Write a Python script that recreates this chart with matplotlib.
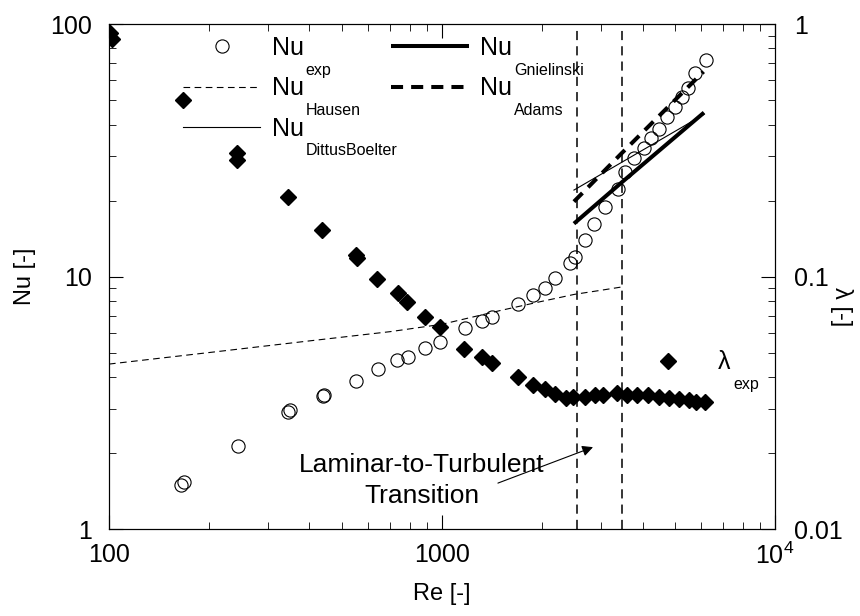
import matplotlib
matplotlib.use('Agg')
import matplotlib.pyplot as plt
from matplotlib.lines import Line2D
from matplotlib.ticker import NullFormatter, LogLocator

plt.rcParams['font.family'] = ['Liberation Sans', 'DejaVu Sans']
plt.rcParams['mathtext.fontset'] = 'custom'
plt.rcParams['mathtext.rm'] = 'Liberation Sans'

# experimental Nusselt numbers
re_nu_exp = [165, 168, 244, 345, 350, 438, 441, 552, 641, 734, 793, 889, 986, 1173,
             1316, 1410, 1695, 1880, 2040, 2184, 2423, 2505, 2690, 2860, 3087, 3380,
             3540, 3760, 4040, 4250, 4470, 4733, 5010, 5250, 5460, 5760, 6190]
nu_exp = [1.50, 1.53, 2.14, 2.90, 2.95, 3.37, 3.40, 3.86, 4.30, 4.67, 4.79, 5.20, 5.52, 6.23,
          6.67, 6.89, 7.79, 8.45, 9.03, 9.84, 11.35, 11.9, 14.0, 16.2, 18.9, 22.3,
          26.0, 29.4, 32.2, 35.3, 38.3, 43.0, 47.0, 51.5, 55.6, 63.8, 72.0]

# experimental friction factor
re_lam = [101, 102, 167, 242, 243, 345, 435, 553, 556, 637, 740, 784, 889, 986, 1165,
          1316, 1410, 1695, 1880, 2040, 2184, 2365, 2480, 2690, 2890, 3050, 3360, 3600,
          3850, 4165, 4470, 4790, 5140, 5500, 5800, 6180]
lam_exp = [0.92, 0.87, 0.50, 0.308, 0.29, 0.207, 0.153, 0.122, 0.118, 0.098, 0.086, 0.0794,
           0.069, 0.063, 0.0515, 0.0478, 0.0456, 0.0401, 0.0372, 0.036, 0.0343, 0.033,
           0.0334, 0.0334, 0.034, 0.034, 0.0346, 0.034, 0.034, 0.034, 0.0333, 0.033,
           0.0326, 0.0324, 0.0318, 0.0318]

# correlations
re_hausen = [100, 200, 400, 700, 1000, 1500, 2000, 2500, 3000, 3480]
nu_hausen = [4.5, 5.0, 5.56, 6.05, 6.47, 7.34, 7.98, 8.5, 8.82, 9.1]
re_gniel = [2490, 3465, 6120]
nu_gniel = [16.2, 23.6, 44.6]
re_adams = [2490, 3465, 6100]
nu_adams = [19.8, 30.8, 64.8]
re_db = [2490, 5290, 6120]
nu_db = [22.0, 39.2, 43.9]

re_transition = [2550, 3480]

x_ticks = [100, 1000, 10000]
x_ticklabels = ['100', '1000', r'$\mathregular{10^4}$']
y_ticks = [1, 10, 100]
y_ticklabels = ['1', '10', '100']
y2_ticks = [0.01, 0.1, 1]
y2_ticklabels = ['0.01', '0.1', '1']

fig = plt.figure(figsize=(8.6, 6.16), dpi=100)
ax = fig.add_axes([0.1267, 0.1412, 0.7745, 0.8198])
ax2 = ax.twinx()

for re in re_transition:
    ax.axvline(re, color='k', lw=1.1, ls=(0, (6, 4)), zorder=1)

ax.plot(re_nu_exp, nu_exp, ls='none', marker='o', mfc='none', mec='k', ms=9.5, mew=0.8, zorder=2)
h_haus, = ax.plot(re_hausen, nu_hausen, color='k', lw=0.8, ls=(0, (6, 4)), zorder=3)
h_db, = ax.plot(re_db, nu_db, color='k', lw=0.8, zorder=3)
h_gn, = ax.plot(re_gniel, nu_gniel, color='k', lw=2.9, solid_capstyle='butt', zorder=3)
h_ad, = ax.plot(re_adams, nu_adams, color='k', lw=2.9, ls=(0, (3.0, 2.0)), zorder=3)
h_exp = Line2D([], [], ls='none', marker='o', mfc='none', mec='k', ms=9.5, mew=0.8)

h_lam, = ax2.plot(re_lam, lam_exp, ls='none', marker='D', color='k', ms=8)

ax.set_xscale('log')
ax.set_yscale('log')
ax2.set_yscale('log')
ax.set_xlim(100, 10000)
ax.set_ylim(1, 100)
ax2.set_ylim(0.01, 1)

ax.set_xticks(x_ticks, labels=x_ticklabels)
ax.set_yticks(y_ticks, labels=y_ticklabels)
ax2.set_yticks(y2_ticks, labels=y2_ticklabels)
for a in (ax.xaxis, ax.yaxis, ax2.yaxis):
    a.set_minor_locator(LogLocator(base=10, subs=range(2, 10)))
    a.set_minor_formatter(NullFormatter())

ax.tick_params(axis='x', which='both', direction='in', top=True, labelsize=18, pad=10)
ax.tick_params(axis='x', which='major', length=10)
ax.tick_params(axis='x', which='minor', length=5)
ax.tick_params(axis='y', which='both', direction='in', right=False, labelsize=18, pad=12)
ax.tick_params(axis='y', which='major', length=10)
ax.tick_params(axis='y', which='minor', length=5)
ax2.tick_params(axis='y', which='both', direction='in', labelsize=18, pad=14)
ax2.tick_params(axis='y', which='major', length=10)
ax2.tick_params(axis='y', which='minor', length=5)

ax.set_xlabel('Re [-]', fontsize=17, va='center')
ax.xaxis.set_label_coords(0.5, -0.128)
ax.set_ylabel('Nu [-]', fontsize=17, va='center')
ax.yaxis.set_label_coords(-0.126, 0.5)
ax2.set_ylabel('λ [-]', fontsize=17, rotation=270, va='center', ha='center')
ax2.yaxis.set_label_coords(1.10, 0.44)

ax.text(871, 1.56, 'Laminar-to-Turbulent\nTransition', ha='center', va='center',
        fontsize=19, linespacing=1.35)
ax.annotate('', xy=(2841, 2.11), xytext=(1472, 1.52),
            arrowprops=dict(arrowstyle='-|>', color='k', lw=0.8, mutation_scale=16,
                            shrinkA=0, shrinkB=0))

leg = ax.legend(handles=[h_exp, h_haus, h_db, h_gn, h_ad], labels=['Nu'] * 5, ncol=2,
                loc='upper left', bbox_to_anchor=(0.111, 0.976), frameon=False, fontsize=18,
                handlelength=3.1, handletextpad=0.46, columnspacing=3.5, labelspacing=0.65,
                borderpad=0, borderaxespad=0)
subs = ['exp', 'Hausen', 'DittusBoelter', 'Gnielinski', 'Adams']
for t, s in zip(leg.get_texts(), subs):
    ax.annotate(s, xy=(1, 0), xycoords=t, xytext=(1, -10.5), textcoords='offset points',
                fontsize=11.5, va='baseline', ha='left', zorder=6)

leg2 = ax2.legend(handles=[h_lam], labels=['λ'], loc='center left',
                  bbox_to_anchor=(0.783, 0.33), frameon=False, fontsize=18,
                  handlelength=3, handletextpad=0.5, borderpad=0, borderaxespad=0)
ax2.annotate('exp', xy=(1, 0), xycoords=leg2.get_texts()[0], xytext=(2, -10.5),
             textcoords='offset points', fontsize=11.5, va='baseline', ha='left', zorder=6)

plt.savefig('out.png', dpi=100)
